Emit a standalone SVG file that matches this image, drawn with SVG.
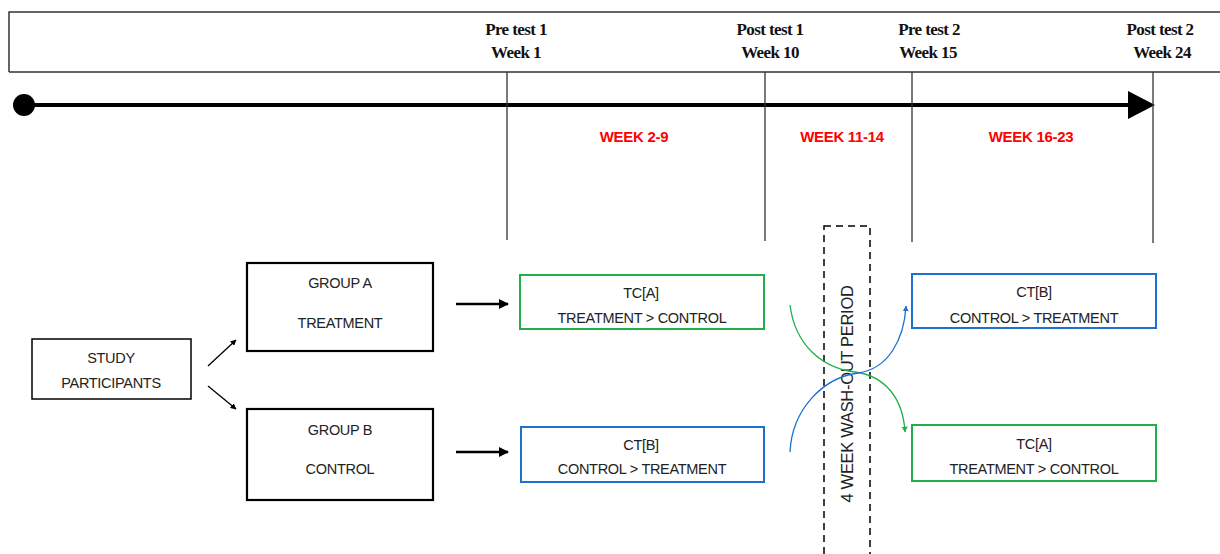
<svg xmlns="http://www.w3.org/2000/svg" width="1220" height="554" viewBox="0 0 1220 554">
<defs>
<style>
.hdr{font-family:"Liberation Serif",serif;font-weight:bold;font-size:17px;fill:#111;text-anchor:middle;letter-spacing:-0.6px}
.wk{font-family:"Liberation Sans",Arial,sans-serif;font-weight:bold;font-size:15px;fill:#ff0000;text-anchor:middle;letter-spacing:-0.3px}
.t{font-family:"Liberation Sans",Arial,sans-serif;font-size:14.5px;fill:#222;text-anchor:middle;letter-spacing:-0.3px}
.blk{fill:#fff;stroke:#000}
.vl{stroke:#333;stroke-width:1.3;fill:none}
.gr{fill:#fff;stroke:#1fb04a;stroke-width:2}
.bl{fill:#fff;stroke:#1f6fd1;stroke-width:2}
</style>
<marker id="ah" viewBox="0 0 10 10" refX="9" refY="5" markerWidth="6" markerHeight="6" orient="auto" markerUnits="userSpaceOnUse"><path d="M0,0 L10,5 L0,10 z" fill="#000"/></marker>
<marker id="ahb" viewBox="0 0 10 10" refX="9" refY="5" markerWidth="10" markerHeight="10" orient="auto" markerUnits="userSpaceOnUse"><path d="M0,0 L10,5 L0,10 z" fill="#000"/></marker>
<marker id="ahg" viewBox="0 0 10 10" refX="9" refY="5" markerWidth="6" markerHeight="6" orient="auto" markerUnits="userSpaceOnUse"><path d="M0,0 L10,5 L0,10 z" fill="#1fb04a"/></marker>
<marker id="ahbl" viewBox="0 0 10 10" refX="9" refY="5" markerWidth="6" markerHeight="6" orient="auto" markerUnits="userSpaceOnUse"><path d="M0,0 L10,5 L0,10 z" fill="#1f6fd1"/></marker>
</defs>
<rect width="1220" height="554" fill="#fff"/>
<g id="timeline">
<path d="M9,72 L9,12 L1225,12 M9,72 L1225,72" fill="none" stroke="#333" stroke-width="1.5"/>
<circle cx="24" cy="105" r="11" fill="#000"/>
<line x1="24" y1="105" x2="1135" y2="105" stroke="#000" stroke-width="4"/>
<path d="M1128,91 L1155,105 L1128,119 z" fill="#000"/>
<line class="vl" x1="507" y1="72" x2="507" y2="240"/>
<line class="vl" x1="765" y1="72" x2="765" y2="241"/>
<line class="vl" x1="912" y1="72" x2="912" y2="242"/>
<line class="vl" x1="1153" y1="72" x2="1153" y2="243"/>
<text class="hdr" x="516" y="35">Pre test 1</text>
<text class="hdr" x="516" y="58">Week 1</text>
<text class="hdr" x="770" y="35">Post test 1</text>
<text class="hdr" x="770" y="58">Week 10</text>
<text class="hdr" x="929" y="35">Pre test 2</text>
<text class="hdr" x="928" y="58">Week 15</text>
<text class="hdr" x="1160" y="35">Post test 2</text>
<text class="hdr" x="1162" y="58">Week 24</text>
<text class="wk" x="634" y="142">WEEK 2-9</text>
<text class="wk" x="842" y="142">WEEK 11-14</text>
<text class="wk" x="1031" y="142">WEEK 16-23</text>
</g>
<g id="study">
<rect class="blk" x="32" y="339" width="159" height="60" stroke-width="1.5"/>
<text class="t" x="111" y="363">STUDY</text>
<text class="t" x="111" y="388">PARTICIPANTS</text>
</g>
<g id="groupA">
<rect class="blk" x="247" y="263" width="186" height="88" stroke-width="2.2"/>
<text class="t" x="340" y="288">GROUP A</text>
<text class="t" x="340" y="328">TREATMENT</text>
</g>
<g id="groupB">
<rect class="blk" x="247" y="409" width="186" height="91" stroke-width="2.2"/>
<text class="t" x="340" y="435">GROUP B</text>
<text class="t" x="340" y="474">CONTROL</text>
</g>
<g id="tcA1">
<rect class="gr" x="520" y="275" width="244" height="54"/>
<text class="t" x="641" y="298">TC[A]</text>
<text class="t" x="642" y="323">TREATMENT &gt; CONTROL</text>
</g>
<g id="ctB1">
<rect class="bl" x="521" y="427" width="243" height="55"/>
<text class="t" x="641" y="450">CT[B]</text>
<text class="t" x="642" y="474">CONTROL &gt; TREATMENT</text>
</g>
<g id="ctB2">
<rect class="bl" x="912" y="274" width="244" height="54"/>
<text class="t" x="1034" y="297">CT[B]</text>
<text class="t" x="1034" y="323">CONTROL &gt; TREATMENT</text>
</g>
<g id="tcA2">
<rect class="gr" x="912" y="425" width="244" height="56"/>
<text class="t" x="1034" y="449">TC[A]</text>
<text class="t" x="1034" y="474">TREATMENT &gt; CONTROL</text>
</g>
<g id="washout">
<rect x="824" y="226" width="46" height="340" fill="none" stroke="#000" stroke-width="1.5" stroke-dasharray="7,5"/>
<text class="t" transform="translate(853,394) rotate(-90)" style="font-size:16.5px">4 WEEK WASH-OUT PERIOD</text>
</g>
<g id="connectors" fill="none">
<line x1="208" y1="366" x2="236" y2="340" stroke="#000" stroke-width="1.3" marker-end="url(#ah)"/>
<line x1="208" y1="386" x2="236" y2="409" stroke="#000" stroke-width="1.3" marker-end="url(#ah)"/>
<line x1="456" y1="304" x2="508" y2="304" stroke="#000" stroke-width="2.5" marker-end="url(#ahb)"/>
<line x1="456" y1="452" x2="508" y2="452" stroke="#000" stroke-width="2.5" marker-end="url(#ahb)"/>
<path d="M790,305 C795,345 822,368 855,372 C885,376 903,398 905,432" stroke="#1fb04a" stroke-width="1.3" marker-end="url(#ahg)"/>
<path d="M790,452 C792,410 822,378 858,373 C888,369 904,340 906,306" stroke="#1f6fd1" stroke-width="1.3" marker-end="url(#ahbl)"/>
</g>
</svg>
